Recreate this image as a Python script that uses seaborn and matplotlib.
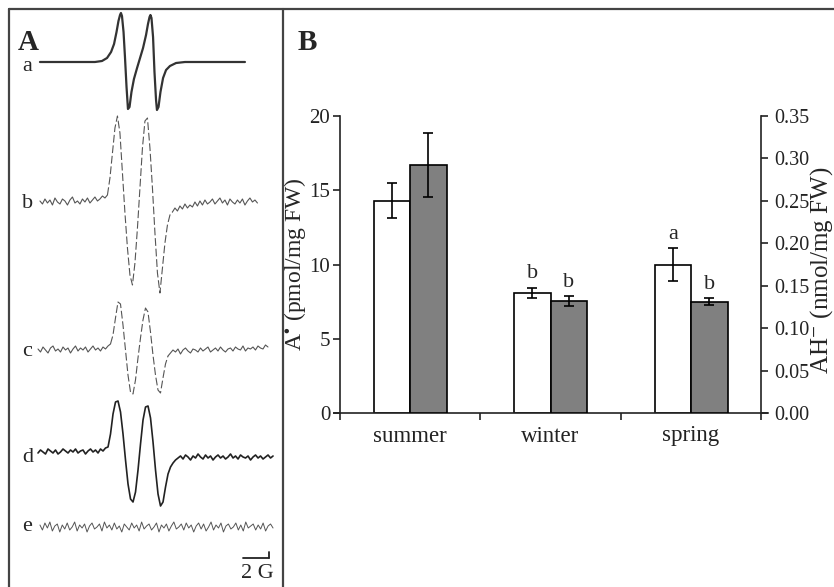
import numpy as np
import pandas as pd
import matplotlib
matplotlib.use("Agg")
import matplotlib.pyplot as plt
from matplotlib.lines import Line2D
import seaborn as sns

# PANEL B DATA
seasons = ["summer", "winter", "spring"]
radical = [14.3, 8.1, 10.0]            # A• (pmol/mg FW), left axis
radical_err = [1.2, 0.35, 1.12]
ascorbate = [0.292, 0.132, 0.131]      # AH- (nmol/mg FW), right axis
ascorbate_err = [0.038, 0.006, 0.004]
radical_letters = ["", "b", "a"]
ascorbate_letters = ["", "b", "b"]

# PANEL A DATA (EPR spectra, field in G, signal in arbitrary units)
a_field = [0.15, 4.38, 4.92, 5.31, 5.62, 5.85, 6.04, 6.19, 6.31, 6.38,
           6.46, 6.58, 6.69, 6.81, 6.92, 7.04, 7.19, 7.38, 7.62, 7.85,
           8.08, 8.31, 8.46, 8.58, 8.65, 8.73, 8.85, 8.96, 9.08, 9.15,
           9.27, 9.42, 9.62, 9.85, 10.15, 10.62, 11.31, 15.92]
a_signal = [0, 0, 1, 4, 10, 18, 30, 41, 47, 49,
            46, 30, 5, -25, -47, -45, -30, -17, -6, 4,
            14, 27, 38, 45, 47, 44, 25, -10, -38, -48,
            -45, -30, -16, -8, -4, -1, 0, 0]

b_field = (0.15, 16.88)
b_signal = [2, -1, 4, 0, 3, -2, 5, 1, -1, 4, 2, -2, 3, 6, 0, 2, -1, 4, 1, 5, 0, 3, 6, 2, 4, 7, 5,
            8, 25, 50, 75, 87, 70, 30, -10, -45, -72, -82, -60, -25, 15, 55, 82, 85, 55, 15,
            -30, -70, -90, -65, -40, -22, -12, -9,
            -5, -8, -3, -6, -1, -5, -2, -4, 1, -3, 2, -2, 3, -1, 1, 4, -1, 2, 5, 0, 3, -2, 4,
            1, -1, 3, 0, 4, -2, 2, 5, 1, 3, 0]

c_field = (0.0, 17.69)
c_signal = [1, -2, 3, 0, -3, 2, 4, -1, 1, -2, 3, 0, 2, -3, 1, 4, -1, 2, 0, 3, -2, 1, 4, 0, 2,
            -1, 3, 1, 4,
            6, 15, 32, 48, 46, 25, 0, -25, -42, -44, -30, -8, 12, 30, 42, 38, 18, -5, -25, -40,
            -43, -28, -14, -6,
            -3, 0, -2, 1, -4, 0, 2, -1, -3, 1, 0, -2, 2, -1, 1, 3, -2, 0, 2, -1, 3, 0, -2, 1,
            2, -1, 3, 1, 0, 4, -1, 2, 1, 3, 0, 4, 2, 1, 5, 3]

d_field = (0.0, 18.08)
d_signal = [-1, 2, 0, -2, 3, 1, -1, 2, -2, 0, 3, 1, -1, 2, 0, 3, -1, 1, 2, -2, 1, 3, 0, 2,
            -1, 3, 1, 4,
            5, 18, 38, 50, 51, 40, 18, -8, -32, -47, -50, -40, -18, 8, 32, 45, 46, 34, 10,
            -18, -42, -54, -50, -35, -22, -15, -11, -8,
            -6, -4, -7, -3, -5, -8, -4, -6, -2, -5, -7, -3, -6, -4, -8, -5, -3, -6, -4, -7,
            -5, -2, -6, -4, -7, -3, -5, -6, -4, -8, -5, -3, -6, -4, -7, -5, -3, -6, -4]

e_field = (0.15, 18.08)
e_signal = [2, -3, 4, -1, 5, -4, 1, 3, -5, 2, -2, 4, -3, 0, 5, -4, 2, -1, 3, -5,
            1, 4, -2, 0, 3, -4, 5, -1, 2, -3, 4, -2, 1, -5, 3, 0, -3, 4, -1, 2,
            -4, 5, -2, 1, 3, -3, 0, 4, -5, 2, -1, 3, -4, 1, 5, -2, 0, 3, -3, 4,
            -1, 2, -5, 1, 4, -2, 3, -4, 0, 5, -3, 2, -1, 4, -5, 1, 3, -2, 0, 4,
            -3, 2, -4, 5, -1, 1, 3, -3, 2, -2, 4, -4, 1, 3, -1]

trace_labels = ["a", "b", "c", "d", "e"]

# STYLE
sns.set_style("ticks")
plt.rcParams['font.family'] = ['Liberation Serif', 'DejaVu Serif']
plt.rcParams['mathtext.fontset'] = 'stix'
plt.rcParams['axes.edgecolor'] = '#222222'
plt.rcParams['xtick.color'] = '#222222'
plt.rcParams['ytick.color'] = '#222222'

W, H = 834, 587
fig = plt.figure(figsize=(W / 100, H / 100), dpi=100)

# frame lines
fig.add_artist(Line2D([9 / W, 1], [1 - 9 / H, 1 - 9 / H], transform=fig.transFigure, color='#444', lw=1.6))
fig.add_artist(Line2D([9 / W, 9 / W], [0, 1 - 9 / H], transform=fig.transFigure, color='#444', lw=1.6))
fig.add_artist(Line2D([283 / W, 283 / W], [0, 1 - 9 / H], transform=fig.transFigure, color='#444', lw=1.6))

# PANEL A
axA = fig.add_axes([10 / W, 0, 272 / W, 577 / H])
axA.set_xlim((10 - 38) / 13, (282 - 38) / 13)
axA.set_ylim(-587, -10)
axA.axis('off')

rows = [62, 203, 350, 452, 527]   # baseline row of each trace (pixels from top)

sns.lineplot(x=a_field, y=-rows[0] + np.array(a_signal), ax=axA, color='#333', lw=1.6,
             estimator=None, sort=False)


def grid(rng, sig):
    return np.linspace(rng[0], rng[1], len(sig))


def draw_split(rng, sig, row, cut1, cut2, color, lw):
    x = grid(rng, sig)
    y = -row + np.array(sig)
    sns.lineplot(x=x[:cut1 + 1], y=y[:cut1 + 1], ax=axA, color=color, lw=lw, estimator=None, sort=False)
    sns.lineplot(x=x[cut1:cut2 + 1], y=y[cut1:cut2 + 1], ax=axA, color=color, lw=lw,
                 estimator=None, sort=False, linestyle=(0, (7, 2.5)))
    sns.lineplot(x=x[cut2:], y=y[cut2:], ax=axA, color=color, lw=lw, estimator=None, sort=False)


draw_split(b_field, b_signal, rows[1], 27, 53, '#555', 0.8)
draw_split(c_field, c_signal, rows[2], 29, 52, '#555', 0.8)
sns.lineplot(x=grid(d_field, d_signal), y=-rows[3] + np.array(d_signal), ax=axA, color='#222', lw=1.2,
             estimator=None, sort=False)
sns.lineplot(x=grid(e_field, e_signal), y=-rows[4] + np.array(e_signal), ax=axA, color='#555', lw=0.7,
             estimator=None, sort=False)

label_base = [71, 208, 356, 462, 531]
for lab, yb in zip(trace_labels, label_base):
    fig.text(22 / W, 1 - yb / H, lab, fontsize=16, ha='left', va='baseline')

# scale bar 2 G
axA.plot([15.77, 17.77], [-558, -558], color='#222', lw=1.3)
axA.plot([17.77, 17.77], [-558, -552], color='#222', lw=1.3)
fig.text(257 / W, 1 - 578 / H, "2 G", fontsize=16, ha='center', va='baseline')

fig.text(28 / W, 1 - 42 / H, "A", fontsize=21, fontweight='bold', ha='center', va='center')
fig.text(307 / W, 1 - 43 / H, "B", fontsize=21, fontweight='bold', ha='center', va='center')

# PANEL B
axB = fig.add_axes([333.6 / W, 1 - 413 / H, 434 / W, 297 / H])
df_rad = pd.DataFrame({"season": seasons, "value": radical, "series": "A"})
df_asc = pd.DataFrame({"season": seasons, "value": ascorbate, "series": "AH"})
pal = {"A": "white", "AH": "#808080"}

sns.barplot(data=df_rad, x="season", y="value", hue="series", hue_order=["A", "AH"], order=seasons,
            palette=pal, width=0.52, gap=0, dodge=True, edgecolor="black", linewidth=1.2, saturation=1,
            errorbar=None, legend=False, ax=axB)
ax2 = axB.twinx()
sns.barplot(data=df_asc, x="season", y="value", hue="series", hue_order=["A", "AH"], order=seasons,
            palette=pal, width=0.52, gap=0, dodge=True, edgecolor="black", linewidth=1.2, saturation=1,
            errorbar=None, legend=False, ax=ax2)

for ax, vals, errs, letters in [(axB, radical, radical_err, radical_letters),
                                (ax2, ascorbate, ascorbate_err, ascorbate_letters)]:
    bars = sorted(ax.patches, key=lambda p: p.get_x())
    xc = [p.get_x() + p.get_width() / 2 for p in bars]
    ax.errorbar(xc, vals, yerr=errs, fmt='none', ecolor='black', elinewidth=1.2, capsize=3.5, capthick=1.2)
    for x, v, e, t in zip(xc, vals, errs, letters):
        if t:
            ax.annotate(t, (x, v + e), xytext=(0, 3), textcoords='offset points',
                        ha='center', va='bottom', fontsize=16)

axB.set_xlim(-0.545, 2.545)
axB.set_ylim(0, 20)
ax2.set_ylim(0, 0.35)
axB.set_yticks([0, 5, 10, 15, 20])
ax2.set_yticks([0.0, 0.05, 0.10, 0.15, 0.20, 0.25, 0.30, 0.35])
ax2.set_yticklabels([f"{v:.2f}" for v in ax2.get_yticks()])

axB.set_xticks([-0.5, 0.5, 1.5, 2.5])
axB.set_xticklabels([])
axB.set_xticks([0, 1, 2], labels=seasons, minor=True)
axB.tick_params(axis='x', which='minor', length=0, pad=9, labelsize=16.5)
axB.tick_params(axis='x', which='major', length=5, width=1.2, direction='out')
axB.tick_params(axis='y', length=5, width=1.2, labelsize=15, pad=2)
ax2.tick_params(axis='y', length=5, width=1.2, labelsize=14.5, pad=4)

for s in ['top', 'right']:
    axB.spines[s].set_visible(False)
axB.spines['left'].set_position(('data', -0.5))
for s in ['top', 'left', 'bottom']:
    ax2.spines[s].set_visible(False)
ax2.spines['right'].set_position(('data', 2.5))
for sp in list(axB.spines.values()) + [ax2.spines['right']]:
    sp.set_linewidth(1.2)

axB.set_xlabel("")
ax2.set_xlabel("")
axB.set_ylabel(r"A$^{\bullet}$ (pmol/mg FW)", fontsize=17)
ax2.set_ylabel(r"AH$^{-}$ (nmol/mg FW)", fontsize=18)
axB.yaxis.set_label_coords(-0.059, 0.5)
ax2.yaxis.set_label_coords(1.094, 0.48)

fig.savefig("out.png", dpi=100)
print("saved")
